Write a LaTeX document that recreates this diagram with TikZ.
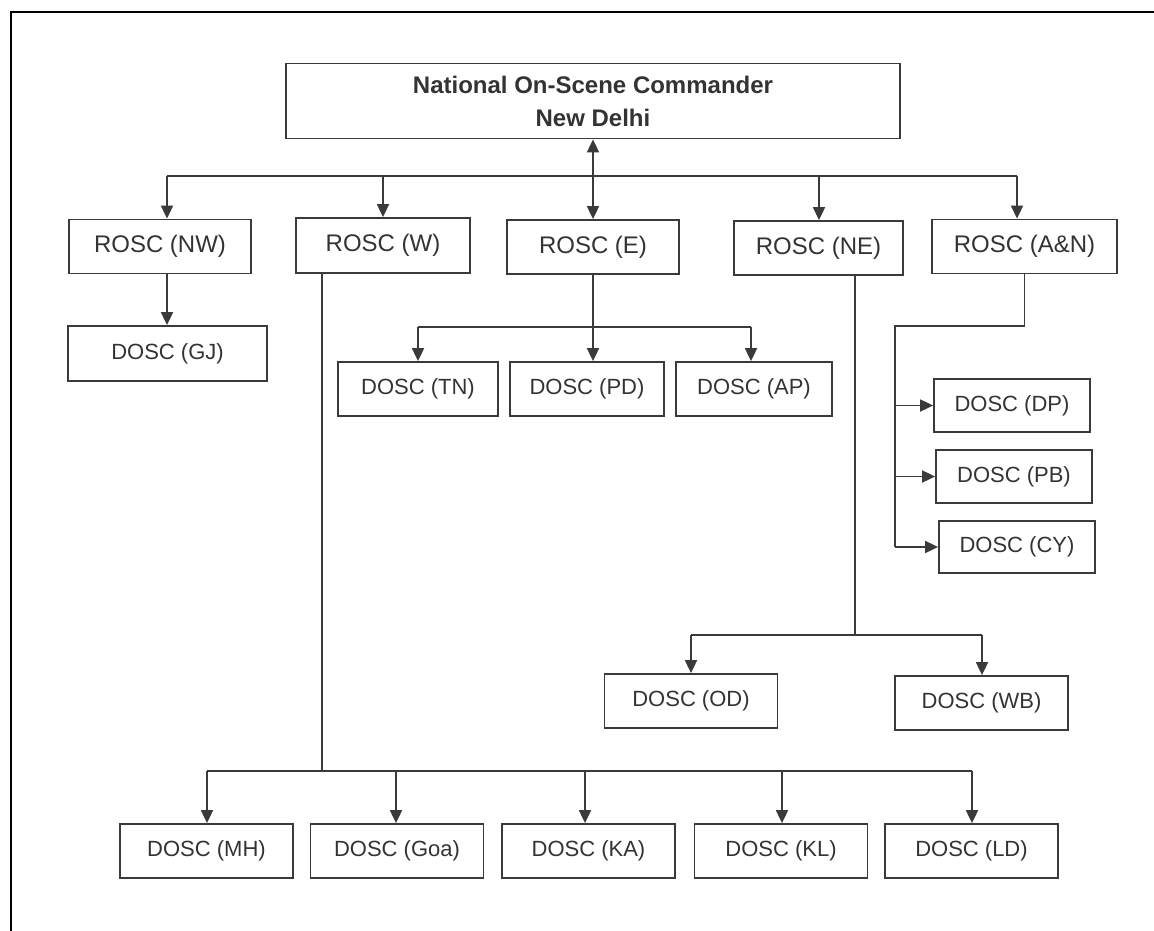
\documentclass[tikz,border=0pt]{standalone}
\usepackage{fontspec}
\setmainfont{Liberation Sans}
\usetikzlibrary{arrows.meta,positioning}
\definecolor{ink}{HTML}{3A3A3A}
\definecolor{txt}{HTML}{333333}
\tikzset{
  box/.style={rectangle,draw=ink,line width=1.8pt,align=center,inner sep=0pt,text=txt},
  head/.style={box,minimum width=614pt,minimum height=75pt,
    font=\bfseries\fontsize{24}{33}\selectfont},
  rosc/.style={box,minimum height=54pt,font=\fontsize{24}{28}\selectfont},
  dosc/.style={box,minimum width=173pt,minimum height=54pt,font=\fontsize{22}{26}\selectfont},
  link/.style={draw=ink,line width=1.8pt},
  arrow/.style={link,-{Triangle[length=13pt,width=12pt]}},
  twoway/.style={link,{Triangle[length=13pt,width=12pt]}-{Triangle[length=13pt,width=12pt]}},
}
\begin{document}
\begin{tikzpicture}[x=1pt,y=-1pt]
\useasboundingbox (0,0) rectangle (1154,931);
% frame
\draw[line width=2.2pt] (11,931) -- (11,12) -- (1154,12);

\node[head] (nosc) at (593,101) {National On-Scene Commander\\New Delhi};

\node[rosc,minimum width=182pt] (rnw) at (160,246.5) {ROSC (NW)};
\node[rosc,minimum width=174pt,minimum height=55pt] (rw) at (383,245.5) {ROSC (W)};
\node[rosc,minimum width=172pt] (re) at (593,247) {ROSC (E)};
\node[rosc,minimum width=169pt] (rne) at (818.5,248) {ROSC (NE)};
\node[rosc,minimum width=185pt] (ran) at (1024.5,246.5) {ROSC (A\&N)};

\node[dosc,minimum width=199pt,minimum height=55pt] (gj) at (167.5,353.5) {DOSC (GJ)};
\node[dosc,minimum width=160pt] (tn) at (418,389) {DOSC (TN)};
\node[dosc,minimum width=154pt] (pd) at (587,389) {DOSC (PD)};
\node[dosc,minimum width=156pt] (ap) at (754,389) {DOSC (AP)};
\node[dosc,minimum width=156pt,minimum height=53pt] (dp) at (1012,405.5) {DOSC (DP)};
\node[dosc,minimum width=156pt,minimum height=53pt] (pb) at (1014,476.5) {DOSC (PB)};
\node[dosc,minimum width=156pt,minimum height=52pt] (cy) at (1017,547) {DOSC (CY)};
\node[dosc] (od) at (691,701) {DOSC (OD)};
\node[dosc] (wb) at (981.5,703) {DOSC (WB)};
\node[dosc] (mh) at (206.5,851) {DOSC (MH)};
\node[dosc] (goa) at (397,851) {DOSC (Goa)};
\node[dosc] (ka) at (588.5,851) {DOSC (KA)};
\node[dosc] (kl) at (781,851) {DOSC (KL)};
\node[dosc] (ld) at (971.5,851) {DOSC (LD)};

% commander to regions
\draw[twoway] (re.north) -- (re.north |- nosc.south);
\draw[link] (167,176) -- (1017,176);
\foreach \n/\x in {rnw/167,rw/383,rne/819,ran/1017}
  \draw[arrow] (\x,176) -- (\x,0 |- \n.north);

% NW
\draw[arrow] (167,0 |- rnw.south) -- (167,0 |- gj.north);

% E
\draw[arrow] (re.south) -- (re.south |- pd.north);
\draw[link] (418,327) -- (751,327);
\draw[arrow] (418,327) -- (418,0 |- tn.north);
\draw[arrow] (751,327) -- (751,0 |- ap.north);

% A&N
\draw[link] (ran.south) -- (ran.south |- 0,326) -- (895,326) -- (895,0 |- cy.west);
\foreach \n in {dp,pb,cy}
  \draw[arrow] (895,0 |- \n.west) -- (\n.west);

% NE
\draw[link] (855,0 |- rne.south) -- (855,635);
\draw[link] (691,635) -- (982,635);
\foreach \n/\x in {od/691,wb/982}
  \draw[arrow] (\x,635) -- (\x,0 |- \n.north);

% W
\draw[link] (322,0 |- rw.south) -- (322,771);
\draw[link] (207,771) -- (972,771);
\foreach \n/\x in {mh/207,goa/396,ka/585,kl/782,ld/972}
  \draw[arrow] (\x,771) -- (\x,0 |- \n.north);
\end{tikzpicture}
\end{document}
